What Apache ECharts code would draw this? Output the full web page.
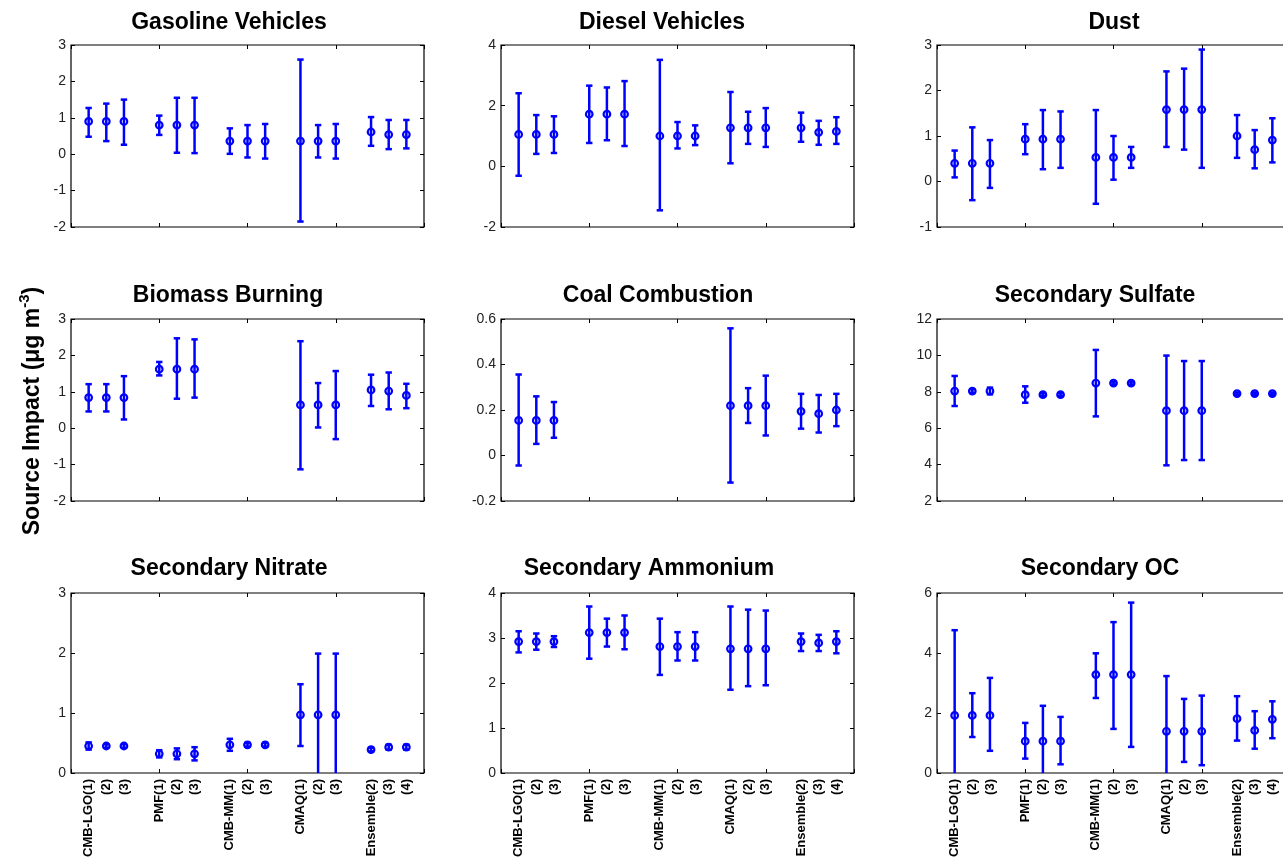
<!DOCTYPE html>
<html>
<head>
<meta charset="utf-8">
<script src="https://cdn.jsdelivr.net/npm/echarts@6/dist/echarts.min.js"></script>
<style>
  html, body { margin: 0; padding: 0; background: #fff; }
  #main { width: 1283px; height: 865px; }
</style>
</head>
<body>
<div id="main"></div>
<script>
// x positions of the estimates and their tick labels
var xPos = [1, 2, 3, 5, 6, 7, 9, 10, 11, 13, 14, 15, 17, 18, 19];
var xLabels = ['CMB-LGO(1)', '(2)', '(3)', 'PMF(1)', '(2)', '(3)', 'CMB-MM(1)', '(2)', '(3)',
  'CMAQ(1)', '(2)', '(3)', 'Ensemble(2)', '(3)', '(4)'];
var xTicks = [0, 5, 10, 15, 20];

var titles = ['Gasoline Vehicles', 'Diesel Vehicles', 'Dust', 'Biomass Burning', 'Coal Combustion',
  'Secondary Sulfate', 'Secondary Nitrate', 'Secondary Ammonium', 'Secondary OC'];

// y axis ranges [min, max, interval]
var yRanges = [[-2, 3, 1], [-2, 4, 2], [-1, 3, 1], [-2, 3, 1], [-0.2, 0.6, 0.2],
  [2, 12, 2], [0, 3, 1], [0, 4, 1], [0, 6, 2]];

// mean, lower and upper ends of the error bars per source
var gasMean = [0.9, 0.9, 0.9, 0.8, 0.8, 0.8, 0.36, 0.36, 0.36, 0.36, 0.36, 0.36, 0.61, 0.54, 0.54];
var gasLo = [0.48, 0.36, 0.26, 0.53, 0.04, 0.03, 0.01, -0.09, -0.12, -1.85, -0.09, -0.12, 0.23, 0.14, 0.16];
var gasHi = [1.27, 1.39, 1.5, 1.06, 1.55, 1.55, 0.71, 0.8, 0.83, 2.6, 0.8, 0.83, 1.02, 0.94, 0.94];

var dieMean = [1.05, 1.05, 1.05, 1.72, 1.72, 1.72, 1.0, 1.0, 1.0, 1.27, 1.27, 1.27, 1.27, 1.12, 1.15];
var dieLo = [-0.31, 0.41, 0.44, 0.77, 0.86, 0.67, -1.45, 0.59, 0.7, 0.1, 0.74, 0.64, 0.81, 0.71, 0.74];
var dieHi = [2.41, 1.69, 1.65, 2.66, 2.6, 2.81, 3.51, 1.46, 1.35, 2.45, 1.8, 1.92, 1.77, 1.5, 1.62];

var dustMean = [0.4, 0.4, 0.4, 0.93, 0.93, 0.93, 0.53, 0.53, 0.53, 1.58, 1.58, 1.58, 1.0, 0.7, 0.91];
var dustLo = [0.09, -0.41, -0.14, 0.6, 0.27, 0.3, -0.49, 0.04, 0.3, 0.76, 0.7, 0.3, 0.52, 0.29, 0.42];
var dustHi = [0.68, 1.19, 0.91, 1.26, 1.57, 1.54, 1.57, 1.0, 0.76, 2.42, 2.48, 2.9, 1.46, 1.13, 1.39];

var bioMean = [0.84, 0.84, 0.84, 1.62, 1.62, 1.62, null, null, null, 0.64, 0.64, 0.64, 1.05, 1.02, 0.9];
var bioLo = [0.46, 0.46, 0.24, 1.45, 0.81, 0.84, null, null, null, -1.13, 0.02, -0.3, 0.61, 0.52, 0.55];
var bioHi = [1.21, 1.21, 1.43, 1.82, 2.47, 2.44, null, null, null, 2.39, 1.24, 1.57, 1.47, 1.53, 1.22];

var coalMean = [0.154, 0.154, 0.154, null, null, null, null, null, null, 0.219, 0.219, 0.219, 0.194, 0.184, 0.2];
var coalLo = [-0.044, 0.051, 0.078, null, null, null, null, null, null, -0.119, 0.143, 0.088, 0.118, 0.101, 0.129];
var coalHi = [0.356, 0.26, 0.235, null, null, null, null, null, null, 0.559, 0.296, 0.351, 0.271, 0.266, 0.271];

var sulMean = [8.04, 8.04, 8.04, 7.84, 7.84, 7.84, 8.48, 8.48, 8.48, 6.96, 6.96, 6.96, 7.9, 7.9, 7.9];
var sulLo = [7.22, 7.94, 7.86, 7.4, 7.76, 7.76, 6.65, 8.4, 8.4, 3.96, 4.25, 4.25, 7.84, 7.84, 7.84];
var sulHi = [8.87, 8.14, 8.23, 8.3, 7.92, 7.92, 10.3, 8.56, 8.56, 9.99, 9.69, 9.69, 7.96, 7.96, 7.96];

var nitMean = [0.45, 0.45, 0.45, 0.32, 0.32, 0.32, 0.47, 0.47, 0.47, 0.97, 0.97, 0.97, 0.39, 0.43, 0.43];
var nitLo = [0.39, 0.42, 0.42, 0.26, 0.23, 0.21, 0.37, 0.44, 0.44, 0.45, -0.05, -0.05, 0.36, 0.39, 0.39];
var nitHi = [0.51, 0.48, 0.48, 0.38, 0.41, 0.43, 0.57, 0.5, 0.5, 1.48, 1.99, 1.99, 0.42, 0.47, 0.47];

var ammMean = [2.92, 2.92, 2.92, 3.12, 3.12, 3.12, 2.81, 2.81, 2.81, 2.76, 2.76, 2.76, 2.92, 2.89, 2.92];
var ammLo = [2.68, 2.74, 2.8, 2.54, 2.81, 2.75, 2.18, 2.5, 2.5, 1.85, 1.93, 1.95, 2.71, 2.71, 2.66];
var ammHi = [3.15, 3.1, 3.04, 3.7, 3.43, 3.5, 3.43, 3.13, 3.13, 3.7, 3.63, 3.61, 3.1, 3.07, 3.15];

var ocMean = [1.92, 1.92, 1.92, 1.06, 1.06, 1.06, 3.28, 3.28, 3.28, 1.39, 1.39, 1.39, 1.81, 1.42, 1.79];
var ocLo = [-0.92, 1.2, 0.74, 0.48, -0.13, 0.29, 2.5, 1.47, 0.87, -0.45, 0.37, 0.26, 1.08, 0.81, 1.16];
var ocHi = [4.76, 2.66, 3.17, 1.67, 2.24, 1.87, 3.99, 5.03, 5.68, 3.23, 2.47, 2.58, 2.56, 2.06, 2.39];

var panels = [
  [gasMean, gasLo, gasHi], [dieMean, dieLo, dieHi], [dustMean, dustLo, dustHi],
  [bioMean, bioLo, bioHi], [coalMean, coalLo, coalHi], [sulMean, sulLo, sulHi],
  [nitMean, nitLo, nitHi], [ammMean, ammLo, ammHi], [ocMean, ocLo, ocHi]
];

// layout
var colLeft = [71, 501, 937];
var rowTop = [45, 319, 593];
var rowH = [182, 182, 180];
var plotW = 353;
var titlePos = [[229, 23], [662, 23], [1114, 23], [228, 296], [658, 296], [1095, 296],
  [229, 569], [649, 569], [1100, 569]];

var FONT = '"Liberation Sans", Arial, sans-serif';
var BLUE = '#0000ff';

var chart = echarts.init(document.getElementById('main'), null, { renderer: 'canvas' });

function renderErr(params, api) {
  var cs = params.coordSys;
  var x = api.value(0);
  var pc = api.coord([x, api.value(1)]);
  var pl = api.coord([x, api.value(2)]);
  var ph = api.coord([x, api.value(3)]);
  var top = cs.y, bot = cs.y + cs.height;
  var yh = Math.max(ph[1], top);
  var yl = Math.min(pl[1], bot);
  var st = { stroke: BLUE, lineWidth: 2.5, fill: null };
  var kids = [
    { type: 'line', shape: { x1: pc[0], y1: yh, x2: pc[0], y2: yl }, style: st }
  ];
  if (ph[1] >= top) {
    kids.push({ type: 'line', shape: { x1: pc[0] - 3.2, y1: ph[1], x2: pc[0] + 3.2, y2: ph[1] }, style: st });
  }
  if (pl[1] <= bot) {
    kids.push({ type: 'line', shape: { x1: pc[0] - 3.2, y1: pl[1], x2: pc[0] + 3.2, y2: pl[1] }, style: st });
  }
  kids.push({ type: 'circle', shape: { cx: pc[0], cy: pc[1], r: 3.3 },
    style: { stroke: BLUE, lineWidth: 2.2, fill: null } });
  return { type: 'group', children: kids };
}

var grids = [], xAxes = [], yAxes = [], series = [], graphics = [];

panels.forEach(function (p, i) {
  var col = i % 3, row = Math.floor(i / 3);
  var r = yRanges[i];
  grids.push({
    left: colLeft[col], top: rowTop[row], width: plotW, height: rowH[row],
    show: true, borderColor: '#000', borderWidth: 1.2, backgroundColor: '#fff',
    containLabel: false, outerBoundsMode: 'none'
  });
  var tickStyle = { show: true, inside: true, length: 4, lineStyle: { color: '#000', width: 1 } };
  var noLine = { show: false, onZero: false };
  xAxes.push({
    gridIndex: i, type: 'value', min: 0, max: 20, position: 'bottom',
    axisLine: noLine, splitLine: { show: false },
    axisTick: Object.assign({ customValues: xTicks }, tickStyle),
    axisLabel: {
      show: row === 2, customValues: xPos, rotate: 90, margin: 6,
      fontFamily: FONT, fontSize: 13, fontWeight: 'bold', color: '#000',
      formatter: function (v) { return xLabels[xPos.indexOf(v)]; }
    }
  });
  xAxes.push({
    gridIndex: i, type: 'value', min: 0, max: 20, position: 'top',
    axisLine: noLine, splitLine: { show: false },
    axisTick: Object.assign({ customValues: xTicks }, tickStyle),
    axisLabel: { show: false }
  });
  yAxes.push({
    gridIndex: i, type: 'value', min: r[0], max: r[1], interval: r[2], position: 'left',
    axisLine: noLine, splitLine: { show: false },
    axisTick: tickStyle,
    axisLabel: { fontFamily: FONT, fontSize: 14, color: '#222', margin: 5 }
  });
  yAxes.push({
    gridIndex: i, type: 'value', min: r[0], max: r[1], interval: r[2], position: 'right',
    axisLine: noLine, splitLine: { show: false },
    axisTick: tickStyle, axisLabel: { show: false }
  });
  var data = [];
  xPos.forEach(function (x, j) {
    if (p[0][j] != null) data.push([x, p[0][j], p[1][j], p[2][j]]);
  });
  series.push({
    type: 'custom', name: titles[i], xAxisIndex: i * 2, yAxisIndex: i * 2,
    renderItem: renderErr, encode: { x: 0, y: [1, 2, 3] }, data: data, clip: false,
    silent: true
  });
  graphics.push({
    type: 'text', x: titlePos[i][0], y: titlePos[i][1],
    style: { text: titles[i], font: 'bold 23px ' + FONT, fill: '#000', align: 'center', verticalAlign: 'middle' }
  });
});

graphics.push({
  type: 'text', x: 31, y: 411, rotation: Math.PI / 2,
  style: {
    text: '{a|Source Impact (μg m}{b|-3}{a|)}',
    align: 'center', verticalAlign: 'middle', fill: '#000',
    rich: {
      a: { fontFamily: FONT, fontSize: 23, fontWeight: 'bold', lineHeight: 27, verticalAlign: 'bottom' },
      b: { fontFamily: FONT, fontSize: 15, fontWeight: 'bold', lineHeight: 16, verticalAlign: 'top' }
    }
  }
});

chart.setOption({
  backgroundColor: '#fff',
  animation: false,
  grid: grids,
  xAxis: xAxes,
  yAxis: yAxes,
  series: series,
  graphic: graphics
});
</script>
</body>
</html>
